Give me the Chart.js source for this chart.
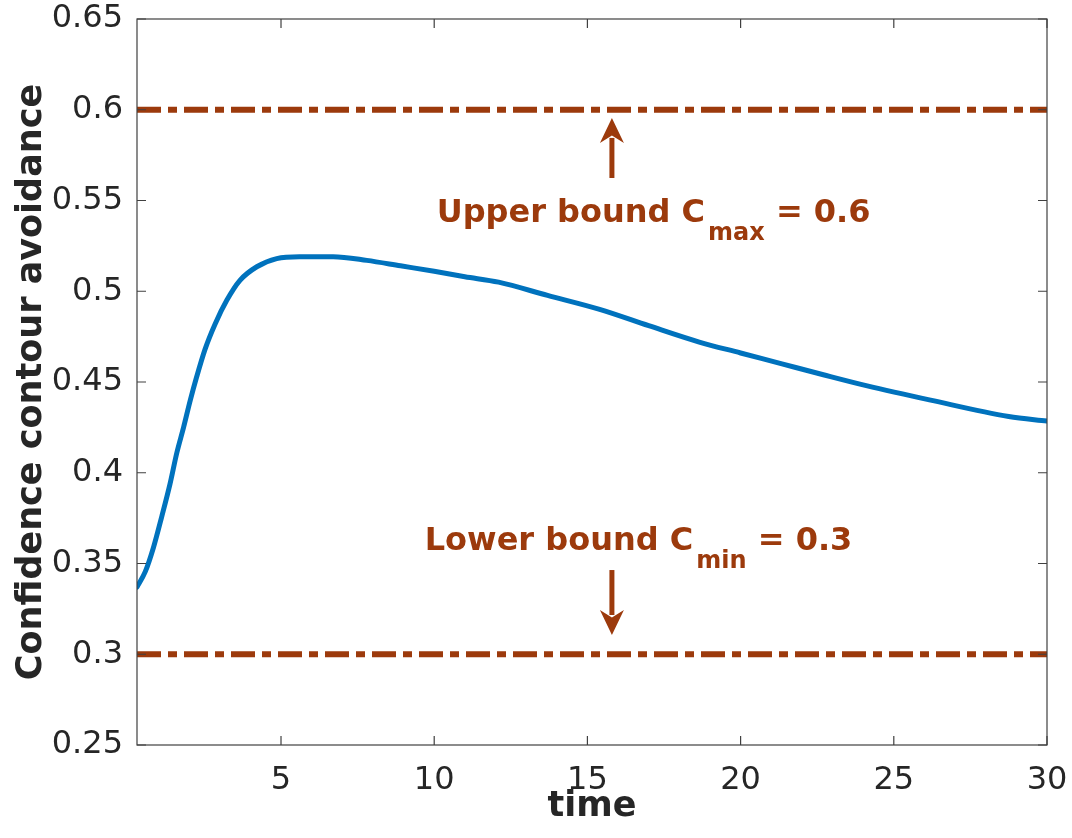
<!DOCTYPE html>
<html>
<head>
<meta charset="utf-8">
<script src="https://cdn.jsdelivr.net/npm/chart.js@4/dist/chart.umd.min.js"></script>
<style>
    html, body { margin: 0; padding: 0; background: #fff; }
    canvas { display: block; }
</style>
</head>
<body>
<canvas id="canvasGrafico" width="1072" height="838"></canvas>
<script>
// valori
const times = [0.3, 0.57, 0.84, 1.11, 1.38, 1.6, 1.82, 2.04, 2.25, 2.52, 2.85, 3.23, 3.66, 4.21, 4.86, 5.6, 6.7,
    7.8, 8.9, 10.0, 11.0, 12.1, 13.7, 15.4, 17.0, 18.65, 20.0, 21.35, 22.7, 24.1, 26.2, 28.75, 30];
const avoidance = [0.337, 0.3455, 0.359, 0.376, 0.394, 0.411, 0.425, 0.440, 0.453, 0.468, 0.482, 0.495, 0.506,
    0.5135, 0.518, 0.519, 0.519, 0.517, 0.514, 0.511, 0.508, 0.505, 0.4977, 0.490, 0.481, 0.472, 0.466, 0.460,
    0.454, 0.448, 0.440, 0.431, 0.4285];

const boundTimes = [0.3, 30];
const upperBound = [0.6, 0.6];
const lowerBound = [0.3, 0.3];

const xTicks = [5, 10, 15, 20, 25, 30];
const yTicks = [0.25, 0.3, 0.35, 0.4, 0.45, 0.5, 0.55, 0.6, 0.65];

const brown = "#9c3a0c";
const blue = "#0072bd";
const axisColor = "#404040";
const textColor = "#262626";
const fontName = "'DejaVu Sans', sans-serif";

// testi e frecce (coordinate nei valori degli assi)
const labels = [
    { x: 10.08, y: 0.538, main: "Upper bound C", sub: "max", tail: " = 0.6" },
    { x: 9.69, y: 0.3574, main: "Lower bound C", sub: "min", tail: " = 0.3" }
];
const arrows = [
    { x: 15.8, from: 0.5624, to: 0.5955 },
    { x: 15.8, from: 0.3464, to: 0.3106 }
];

function toPoints(xs, ys) {
    return xs.map((x, i) => ({ x: x, y: ys[i] }));
}

// box con tacche verso l'interno
const boxPlugin = {
    id: "box",
    afterDraw(chart) {
        const ctx = chart.ctx;
        const a = chart.chartArea;
        const xs = chart.scales.x;
        const ys = chart.scales.y;
        const len = 9;
        ctx.save();
        ctx.strokeStyle = axisColor;
        ctx.lineWidth = 1.2;
        ctx.strokeRect(a.left, a.top, a.right - a.left, a.bottom - a.top);
        ctx.beginPath();
        xTicks.forEach(v => {
            const px = xs.getPixelForValue(v);
            ctx.moveTo(px, a.bottom); ctx.lineTo(px, a.bottom - len);
            ctx.moveTo(px, a.top); ctx.lineTo(px, a.top + len);
        });
        yTicks.forEach(v => {
            const py = ys.getPixelForValue(v);
            ctx.moveTo(a.left, py); ctx.lineTo(a.left + len, py);
            ctx.moveTo(a.right, py); ctx.lineTo(a.right - len, py);
        });
        ctx.stroke();
        ctx.restore();
    }
};

const notePlugin = {
    id: "note",
    afterDatasetsDraw(chart) {
        const ctx = chart.ctx;
        const xs = chart.scales.x;
        const ys = chart.scales.y;
        ctx.save();
        ctx.fillStyle = brown;
        ctx.strokeStyle = brown;
        ctx.textBaseline = "alphabetic";
        ctx.textAlign = "left";

        labels.forEach(l => {
            let px = xs.getPixelForValue(l.x);
            const py = ys.getPixelForValue(l.y);
            ctx.font = "bold 32px " + fontName;
            ctx.fillText(l.main, px, py);
            px += ctx.measureText(l.main).width + 3;
            ctx.font = "bold 24px " + fontName;
            ctx.fillText(l.sub, px, py + 18);
            px += ctx.measureText(l.sub).width;
            ctx.font = "bold 32px " + fontName;
            ctx.fillText(l.tail, px, py);
        });

        arrows.forEach(ar => {
            const px = xs.getPixelForValue(ar.x);
            const y0 = ys.getPixelForValue(ar.from);
            const y1 = ys.getPixelForValue(ar.to);
            const dir = y1 < y0 ? 1 : -1;
            const head = 25;
            ctx.lineWidth = 5;
            ctx.beginPath();
            ctx.moveTo(px, y0);
            ctx.lineTo(px, y1 + dir * head * 0.8);
            ctx.stroke();
            ctx.beginPath();
            ctx.moveTo(px, y1);
            ctx.lineTo(px - 12, y1 + dir * head);
            ctx.lineTo(px, y1 + dir * head * 0.7);
            ctx.lineTo(px + 12, y1 + dir * head);
            ctx.closePath();
            ctx.fill();
        });
        ctx.restore();
    }
};

const boundStyle = {
    borderColor: brown,
    borderWidth: 6,
    borderDash: [24, 7, 9, 7],
    pointRadius: 0,
    fill: false,
    tension: 0
};

new Chart(document.getElementById("canvasGrafico"), {
    type: "line",
    data: {
        datasets: [
            {
                label: "avoidance",
                data: toPoints(times, avoidance),
                borderColor: blue,
                borderWidth: 5,
                pointRadius: 0,
                fill: false,
                cubicInterpolationMode: "monotone",
                borderCapStyle: "round",
                borderJoinStyle: "round"
            },
            { label: "Cmax", data: toPoints(boundTimes, upperBound), ...boundStyle },
            { label: "Cmin", data: toPoints(boundTimes, lowerBound), ...boundStyle }
        ]
    },
    options: {
        responsive: false,
        animation: false,
        events: [],
        layout: { padding: { top: 19, right: 25, left: 0, bottom: 0 } },
        plugins: {
            legend: { display: false },
            tooltip: { enabled: false }
        },
        scales: {
            x: {
                type: "linear",
                min: 0.3,
                max: 30,
                afterBuildTicks: s => { s.ticks = xTicks.map(v => ({ value: v })); },
                afterFit: s => {
                    s.height = 93;
                    s.paddingLeft = 0;
                    s.paddingRight = 0;
                },
                grid: { display: false, drawTicks: false },
                border: { display: false },
                ticks: {
                    color: textColor,
                    font: { family: fontName, size: 32 },
                    padding: 16,
                    maxRotation: 0,
                    callback: v => String(v)
                },
                title: {
                    display: true,
                    text: "time",
                    color: textColor,
                    font: { family: fontName, size: 35, weight: "bold" },
                    padding: { top: 0, bottom: 10 }
                }
            },
            y: {
                min: 0.25,
                max: 0.65,
                afterBuildTicks: s => { s.ticks = yTicks.map(v => ({ value: v })); },
                afterFit: s => {
                    s.width = 137;
                    s.paddingTop = 0;
                    s.paddingBottom = 0;
                },
                grid: { display: false, drawTicks: false },
                border: { display: false },
                ticks: {
                    color: textColor,
                    font: { family: fontName, size: 32 },
                    padding: 14,
                    callback: v => String(v)
                },
                title: {
                    display: true,
                    text: "Confidence contour avoidance",
                    color: textColor,
                    font: { family: fontName, size: 35, weight: "bold" },
                    padding: { top: 11, bottom: 0 }
                }
            }
        }
    },
    plugins: [boxPlugin, notePlugin]
});
</script>
</body>
</html>
